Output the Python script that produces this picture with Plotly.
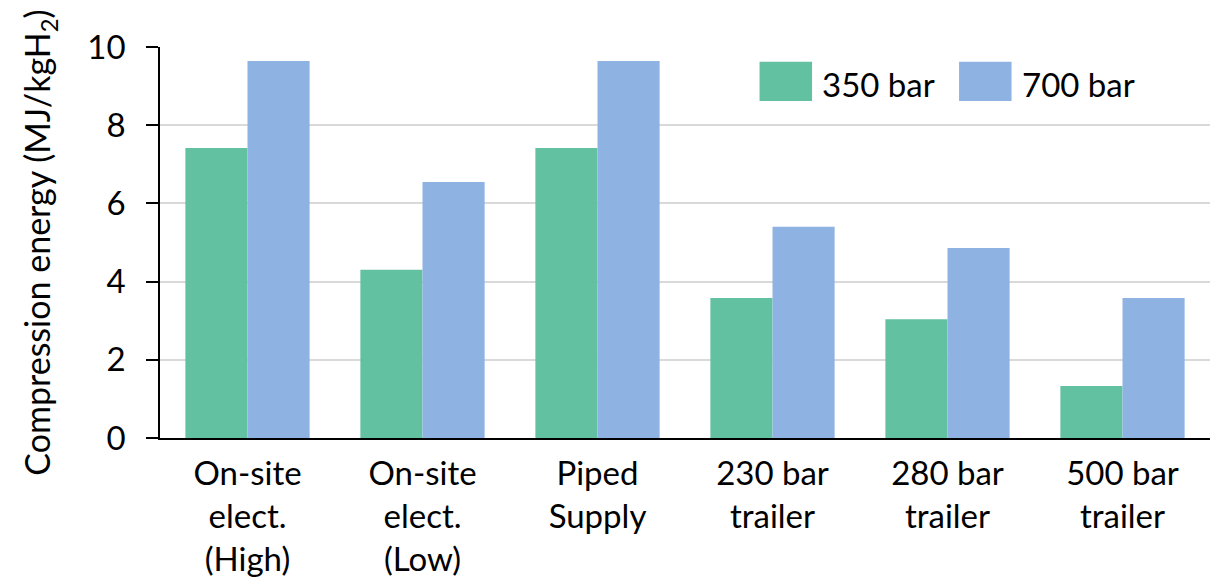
import plotly.graph_objects as go

categories = ["On-site<br>elect.<br>(High)", "On-site<br>elect.<br>(Low)", "Piped<br>Supply",
              "230 bar<br>trailer", "280 bar<br>trailer", "500 bar<br>trailer"]
series_names = ["350 bar", "700 bar"]
values_350 = [7.42, 4.30, 7.42, 3.58, 3.04, 1.33]
values_700 = [9.64, 6.55, 9.64, 5.40, 4.86, 3.58]
colors = ["#61c1a1", "#8eb3e2"]

FONT = "Lato"
SIZE = 33
fig = go.Figure()
for name, vals, col in zip(series_names, [values_350, values_700], colors):
    fig.add_trace(go.Bar(x=categories, y=vals, name=name, marker=dict(color=col, line=dict(width=0))))

# custom legend: large square swatches with text
legend_x = [0.571, 0.761]
for name, col, lx in zip(series_names, colors, legend_x):
    fig.add_shape(type="rect", xref="paper", yref="paper", x0=lx, x1=lx + 0.05, y0=0.862, y1=0.962,
                  fillcolor=col, line=dict(width=0))
    fig.add_annotation(xref="paper", yref="paper", x=lx + 0.058, y=0.905, text=name, showarrow=False,
                       xanchor="left", yanchor="middle", font=dict(family=FONT, size=SIZE, color="black"))

fig.update_layout(
    width=1212, height=583,
    margin=dict(l=160, r=2, t=47, b=145),
    paper_bgcolor="white", plot_bgcolor="white",
    barmode="group", bargap=0.29, bargroupgap=0,
    showlegend=False,
    font=dict(family=FONT, size=SIZE, color="black"),
    xaxis=dict(showline=True, linecolor="black", linewidth=1.5, ticks="", tickfont=dict(size=SIZE),
               ticklabelstandoff=6),
    yaxis=dict(range=[0, 10], dtick=2, showline=True, linecolor="black", linewidth=1.5,
               ticks="outside", ticklen=12, tickwidth=1.5, tickcolor="black",
               showgrid=True, gridcolor="#d9d9d9", gridwidth=1.5, zeroline=False,
               tickfont=dict(size=SIZE), ticklabelstandoff=14,
               title=dict(text="Compression energy (MJ/kgH<sub>2</sub>)", font=dict(size=34), standoff=26)),
)
fig.write_html("out.html")
